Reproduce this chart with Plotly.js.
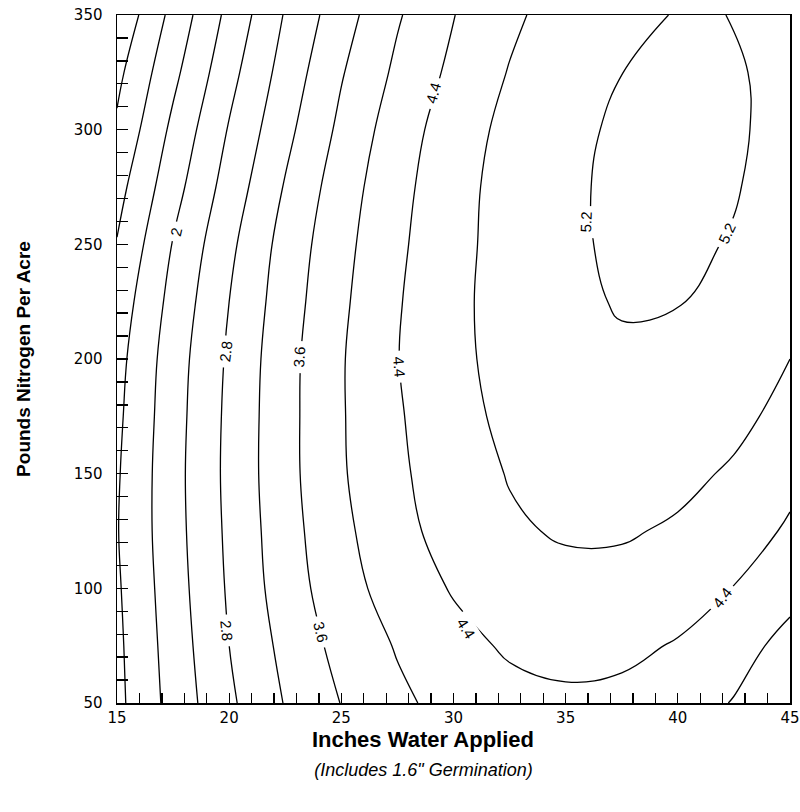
<!DOCTYPE html>
<html><head><meta charset="utf-8">
<script src="https://cdn.plot.ly/plotly-3.0.1.min.js"></script>
<style>html,body{margin:0;padding:0;background:#fff}#chart{width:800px;height:812px}</style>
</head><body><div id="chart"></div>
<script>
// Inches of water applied (x) and pounds of nitrogen per acre (y)
const waterInches = [15, 17.5, 20, 22.5, 25, 27.5, 30, 32.5, 35, 37.5, 40, 42.5, 45];
const nitrogenLbs = [50, 75, 100, 125, 150, 175, 200, 225, 250, 275, 300, 325, 350];
// Yield at each (nitrogen row, water column)
const yieldN050 = [1.50, 2.14, 2.73, 3.22, 3.61, 3.92, 4.14, 4.28, 4.33, 4.30, 4.18, 3.98, 3.69];
const yieldN075 = [1.52, 2.18, 2.80, 3.31, 3.73, 4.03, 4.28, 4.45, 4.52, 4.49, 4.37, 4.15, 3.88];
const yieldN100 = [1.55, 2.22, 2.85, 3.40, 3.84, 4.18, 4.43, 4.60, 4.68, 4.67, 4.58, 4.39, 4.12];
const yieldN125 = [1.58, 2.25, 2.88, 3.44, 3.91, 4.27, 4.57, 4.75, 4.84, 4.84, 4.75, 4.58, 4.35];
const yieldN150 = [1.56, 2.26, 2.90, 3.47, 3.96, 4.33, 4.62, 4.82, 4.93, 4.96, 4.90, 4.75, 4.50];
const yieldN175 = [1.52, 2.24, 2.89, 3.47, 3.97, 4.36, 4.67, 4.89, 5.02, 5.07, 5.03, 4.90, 4.68];
const yieldN200 = [1.47, 2.21, 2.86, 3.46, 3.97, 4.39, 4.70, 4.94, 5.10, 5.16, 5.13, 5.01, 4.80];
const yieldN225 = [1.37, 2.13, 2.80, 3.41, 3.93, 4.37, 4.70, 4.97, 5.14, 5.22, 5.21, 5.12, 4.95];
const yieldN250 = [1.22, 2.02, 2.71, 3.35, 3.88, 4.33, 4.68, 4.96, 5.15, 5.25, 5.26, 5.18, 5.01];
const yieldN275 = [1.06, 1.85, 2.57, 3.23, 3.81, 4.28, 4.66, 4.95, 5.15, 5.26, 5.28, 5.22, 5.07];
const yieldN300 = [0.86, 1.69, 2.43, 3.09, 3.69, 4.21, 4.60, 4.91, 5.12, 5.25, 5.28, 5.24, 5.10];
const yieldN325 = [0.70, 1.50, 2.27, 2.96, 3.57, 4.08, 4.49, 4.82, 5.05, 5.198, 5.26, 5.23, 5.11];
const yieldN350 = [0.47, 1.32, 2.11, 2.83, 3.43, 3.96, 4.39, 4.72, 4.98, 5.14, 5.212, 5.198, 5.10];
const contourStart = 0.8, contourEnd = 5.2, contourStep = 0.4;
// Contour labels as printed on the map
const labelText = ['2', '2.8', '3.6', '4.4', '4.4', '5.2', '5.2', '2.8', '3.6', '4.4', '4.4'];
const labelWater = [17.65, 19.87, 23.14, 27.61, 29.12, 35.88, 42.17, 19.91, 24.07, 30.58, 41.99];
const labelNitrogen = [255.4, 203.1, 200.9, 196.5, 316.0, 259.7, 254.9, 81.8, 81.0, 82.7, 95.8];
const labelAngle = [-77, -83, -86, 85, -74, -88, -65, 85, 76, 58, -52];
// Axis ticks: a mark every inch / every 10 lb, numbers every 5 inches / 50 lb
const waterTickLabels = ['15', '20', '25', '30', '35', '40', '45'];
const nitrogenTickLabels = ['50', '100', '150', '200', '250', '300', '350'];
const xTitle = 'Inches Water Applied';
const xSubtitle = '(Includes 1.6" Germination)';
const yTitle = 'Pounds Nitrogen Per Acre';

const yieldGrid = [yieldN050, yieldN075, yieldN100, yieldN125, yieldN150, yieldN175,
  yieldN200, yieldN225, yieldN250, yieldN275, yieldN300, yieldN325, yieldN350];

const xTickVals = [], xTickText = [];
for (let v = 15; v <= 45; v++) { xTickVals.push(v); xTickText.push(waterTickLabels.includes(String(v)) ? String(v) : ''); }
const yTickVals = [], yTickText = [];
for (let v = 50; v <= 350; v += 10) { yTickVals.push(v); yTickText.push(nitrogenTickLabels.includes(String(v)) ? String(v) : ''); }

const trace = {
  type: 'contour', x: waterInches, y: nitrogenLbs, z: yieldGrid,
  autocontour: false,
  contours: {start: contourStart, end: contourEnd, size: contourStep, coloring: 'none', showlabels: false},
  line: {color: '#000', width: 1.3, smoothing: 1.2},
  showscale: false, hoverinfo: 'skip'
};

const labelFont = {family: 'Liberation Sans, Arial, sans-serif', size: 15, color: '#000'};
const annotations = labelText.map((t, i) => ({
  x: labelWater[i], y: labelNitrogen[i], xref: 'x', yref: 'y',
  text: '\u00a0' + t + '\u00a0', showarrow: false, textangle: labelAngle[i],
  bgcolor: '#fff', borderpad: 1, font: labelFont, xanchor: 'center', yanchor: 'middle'
}));

const tickFont = {family: 'DejaVu Sans, sans-serif', size: 15, color: '#000'};
const titleFamily = 'Liberation Sans, Arial, sans-serif';
const padX = '\u00a0'.repeat(10), padSub = '\u00a0'.repeat(12);

const layout = {
  width: 800, height: 812,
  margin: {l: 117, r: 10, t: 15, b: 109},
  paper_bgcolor: '#fff', plot_bgcolor: '#fff',
  showlegend: false,
  xaxis: {
    range: [15, 45], tickmode: 'array', tickvals: xTickVals, ticktext: xTickText,
    ticks: 'inside', ticklen: 10, tickwidth: 1.3, tickcolor: '#000', ticklabeloverflow: 'allow',
    showgrid: false, zeroline: false, showline: true, mirror: true, linecolor: '#000', linewidth: 1.5,
    tickfont: tickFont, layer: 'above traces',
    title: {text: '<b>' + xTitle + '</b>' + padX + '<br><span style="font-size:18px"><i>' + xSubtitle + '</i>' + padSub + '</span>',
      font: {family: titleFamily, size: 22, color: '#000'}, standoff: 6}
  },
  yaxis: {
    range: [50, 350], tickmode: 'array', tickvals: yTickVals, ticktext: yTickText,
    ticks: 'inside', ticklen: 11, tickwidth: 1.3, tickcolor: '#000',
    showgrid: false, zeroline: false, showline: true, mirror: true, linecolor: '#000', linewidth: 1.5,
    tickfont: tickFont, ticklabelstandoff: 10, layer: 'above traces',
    title: {text: '<b>' + yTitle + '</b>', font: {family: titleFamily, size: 19, color: '#000'}, standoff: 38}
  },
  annotations: annotations
};

Plotly.newPlot('chart', [trace], layout, {displayModeBar: false, staticPlot: true});
</script></body></html>
